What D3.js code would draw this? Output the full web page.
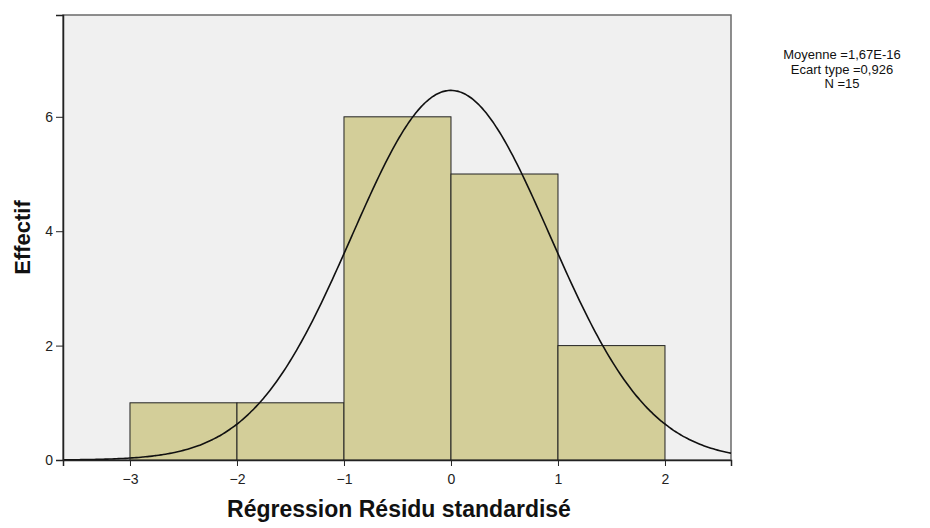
<!DOCTYPE html>
<html><head><meta charset="utf-8">
<script src="https://cdn.jsdelivr.net/npm/d3@7"></script>
<style>body{margin:0;background:#fff}svg{display:block;font-family:"Liberation Sans",Arial,sans-serif}</style>
</head><body><svg id="c" width="930" height="528"></svg>
<script>
const binStarts = [-3, -2, -1, 0, 1];
const binEnds = [-2, -1, 0, 1, 2];
const counts = [1, 1, 6, 5, 2];
const xTicks = [-3, -2, -1, 0, 1, 2];
const yTicks = [0, 2, 4, 6];
const statsLines = ["Moyenne =1,67E-16", "Ecart type =0,926", "N =15"];
const meanVal = 1.67e-16, sdVal = 0.926, nVal = 15, binWidth = 1;

const svg = d3.select("#c");
const L = 63, R = 731, T = 15, B = 460;
const x = d3.scaleLinear().domain([-3.626, 2.617]).range([L, R]);
const y = d3.scaleLinear().domain([0, 7.78]).range([B, T]);

svg.append("rect").attr("x", L).attr("y", T).attr("width", R - L).attr("height", B - T)
  .attr("fill", "#f0f0f0").attr("stroke", "#6a6a6a").attr("stroke-width", 1.5);

svg.append("g").selectAll("rect").data(counts).join("rect")
  .attr("x", (d, i) => x(binStarts[i]))
  .attr("y", d => y(d))
  .attr("width", (d, i) => x(binEnds[i]) - x(binStarts[i]))
  .attr("height", d => y(0) - y(d))
  .attr("fill", "#d3ce99").attr("stroke", "#222").attr("stroke-width", 1);

const pts = d3.range(0, 301).map(i => {
  const v = -3.626 + i * (2.617 + 3.626) / 300;
  const dens = nVal * binWidth / (sdVal * Math.sqrt(2 * Math.PI)) * Math.exp(-0.5 * Math.pow((v - meanVal) / sdVal, 2));
  return [v, dens];
});
svg.append("path").datum(pts)
  .attr("d", d3.line().x(d => x(d[0])).y(d => y(d[1])).curve(d3.curveBasis))
  .attr("fill", "none").attr("stroke", "#111").attr("stroke-width", 1.6);

const xAxis = svg.append("g").attr("transform", `translate(0,${B})`)
  .call(d3.axisBottom(x).tickValues(xTicks).tickSize(6).tickPadding(8).tickFormat(d3.format("d")));
const yAxis = svg.append("g").attr("transform", `translate(${L},0)`)
  .call(d3.axisLeft(y).tickValues(yTicks).tickSize(7).tickPadding(3).tickFormat(d3.format("d")));
[xAxis, yAxis].forEach(g => {
  g.select(".domain").attr("stroke", "#222").attr("stroke-width", 1.5);
  g.selectAll(".tick line").attr("stroke", "#222");
  g.selectAll(".tick text").attr("font-size", 14).attr("fill", "#222")
    .attr("font-family", "Liberation Sans, Arial, sans-serif");
});

svg.append("text").attr("x", (L + R) / 2 + 2).attr("y", 517).attr("text-anchor", "middle")
  .attr("font-size", 23).attr("font-weight", "bold").attr("fill", "#111")
  .text("Régression Résidu standardisé");
svg.append("text").attr("transform", `translate(30,${(T + B) / 2}) rotate(-90)`)
  .attr("text-anchor", "middle").attr("font-size", 22).attr("font-weight", "bold").attr("fill", "#111")
  .text("Effectif");

svg.append("g").selectAll("text").data(statsLines).join("text")
  .attr("x", 842).attr("y", (d, i) => 59 + i * 14.5).attr("text-anchor", "middle")
  .attr("font-size", 13).attr("fill", "#111").text(d => d);
</script></body></html>
